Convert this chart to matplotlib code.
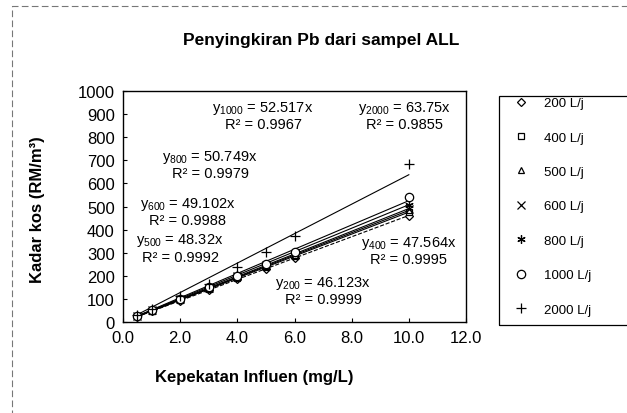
import matplotlib
matplotlib.use('Agg')
import matplotlib.pyplot as plt
from matplotlib.lines import Line2D
from matplotlib.patches import Rectangle
import numpy as np

# 字体设置（Excel 图表风格，用 Liberation Sans 代替 Arial）
plt.rcParams['font.family'] = ['Liberation Sans', 'DejaVu Sans']
plt.rcParams['mathtext.fontset'] = 'custom'
plt.rcParams['mathtext.rm'] = 'Liberation Sans'
plt.rcParams['mathtext.it'] = 'Liberation Sans'
plt.rcParams['mathtext.default'] = 'regular'

# 数据：进水浓度 (mg/L)
x = np.array([0.5, 1.0, 2.0, 3.0, 4.0, 5.0, 6.0, 10.0])

labels = ['200 L/j', '400 L/j', '500 L/j', '600 L/j', '800 L/j', '1000 L/j', '2000 L/j']
flows = ['200', '400', '500', '600', '800', '1000', '2000']

# 各流量下的成本 (RM/m3)
y200 = [23, 46, 93, 139, 185, 231, 277, 461]
y400 = [24, 48, 96, 143, 190, 239, 286, 476]
y500 = [24, 49, 97, 146, 193, 242, 290, 483]
y600 = [25, 50, 99, 148, 197, 246, 295, 490]
y800 = [25, 51, 101, 152, 203, 252, 302, 506]
y1000 = [26, 52, 101, 151, 200, 251, 302, 542]
y2000 = [30, 56, 112, 165, 240, 303, 372, 682]
series = [y200, y400, y500, y600, y800, y1000, y2000]

# 过原点趋势线的斜率和 R2
slopes = [46.123, 47.564, 48.32, 49.102, 50.749, 52.517, 63.75]
r2 = ['0.9999', '0.9995', '0.9992', '0.9988', '0.9979', '0.9967', '0.9855']

# 方程标注位置 (数据坐标)
eq_pos = [(7.0, 173), (10.0, 346), (2.0, 355), (2.25, 515), (3.05, 717), (4.9, 930), (9.85, 930)]

markers = ['D', 's', '^', 'x', (6, 2, 0), 'o', '+']
msizes = [4, 4.5, 5, 5.5, 6, 6, 7]
lstyles = ['--', '-', '-', '-', '-', '-', '-']

fig = plt.figure(figsize=(6.27, 4.14), dpi=100)
W, H = 627, 414
ax = fig.add_axes([123 / W, 1 - 323 / H, (466 - 123) / W, (323 - 92) / H])

for i in range(len(series)):
    xs = np.array([x[0], x[-1]])
    ax.plot(xs, slopes[i] * xs, color='black', lw=0.8, ls=lstyles[i], zorder=2)
    ax.plot(x, series[i], ls='none', marker=markers[i], ms=msizes[i],
            mfc='white', mec='black', mew=0.9, zorder=3)

for i in range(len(series)):
    px, py = eq_pos[i]
    ax.text(px, py, 'y$_{' + flows[i] + '}$ = ' + str(slopes[i]) + 'x',
            ha='center', va='center', fontsize=10.5)
    ax.text(px, py - 72, 'R² = ' + r2[i], ha='center', va='center', fontsize=10.5)

ax.set_xlim(0, 12)
ax.set_ylim(0, 1000)
ax.set_xticks(np.arange(0, 12.1, 2))
ax.set_xticklabels([f'{v:.1f}' for v in np.arange(0, 12.1, 2)])
ax.set_yticks(np.arange(0, 1001, 100))
ax.tick_params(direction='in', length=3, width=0.8, labelsize=12, pad=6)
for s in ax.spines.values():
    s.set_linewidth(1.0)

fig.text(321 / W, 1 - 40 / H, 'Penyingkiran Pb dari sampel ALL', ha='center', va='center',
         fontsize=12.5, fontweight='bold')
fig.text(254 / W, 1 - 378 / H, 'Kepekatan Influen (mg/L)', ha='center', va='center',
         fontsize=12, fontweight='bold')
fig.text(38 / W, 1 - 210 / H, 'Kadar kos (RM/m³)', ha='center', va='center',
         fontsize=12, fontweight='bold', rotation=90)

# 图例
handles = [Line2D([], [], ls='none', marker=markers[i], ms=msizes[i], mfc='white',
                  mec='black', mew=0.9) for i in range(len(series))]
fig.legend(handles, labels, loc='upper left', bbox_to_anchor=(514 / W, 1 - 98 / H),
           frameon=False, fontsize=9.5, handlelength=1.0, handletextpad=1.3,
           labelspacing=1.68, borderpad=0, borderaxespad=0)
fig.patches.append(Rectangle((499 / W, 1 - 326 / H), 0.3, 229 / H, transform=fig.transFigure,
                             fill=False, ec='black', lw=0.9))

# 图表区域的虚线边框
fig.patches.append(Rectangle((12 / W, -0.1), 1.2, 1.1 - 7 / H, transform=fig.transFigure,
                             fill=False, ec='#777777', lw=0.8, ls=(0, (6, 3))))

fig.savefig('out.png', dpi=100)
